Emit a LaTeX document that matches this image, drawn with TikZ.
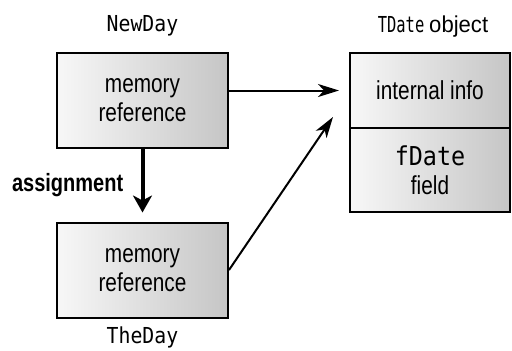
\documentclass[tikz,border=0pt]{standalone}
\usepackage{fontspec}
\usepackage{graphicx}
\setmainfont[FakeStretch=0.8]{Liberation Sans}
\setmonofont[FakeStretch=0.9]{DejaVu Sans Mono}
\usetikzlibrary{positioning,calc,arrows.meta}
\tikzset{
  membox/.style = {
    draw, line width=2pt, left color=gray!6, right color=gray!45,
    minimum width=171pt, align=center, font=\fontsize{26}{29}\selectfont
  },
  title/.style = {font=\fontsize{22}{24}\selectfont},
  link/.style = {line width=2pt, -{Stealth[length=21pt,width=13pt,inset=6pt]}}
}
\tikzset{>=Stealth}

\begin{document}
\begin{tikzpicture}[x=1pt,y=-1pt]
  \useasboundingbox (0,0) rectangle (512,351);
  % variables
  \node[membox, minimum height=95pt] (newday) at (142.5,100.5) {memory\\reference};
  \node[membox, minimum height=95pt] (theday) at (142.5,270) {memory\\reference};
  % object
  \node[membox, minimum width=160pt, minimum height=75pt] (info) at (430,90.5) {internal info};
  \node[membox, minimum width=160pt, minimum height=84pt, below=-2pt of info] (field)
       {\texttt{fDate}\\field};
  % names
  \node[title, above=12pt of newday] {\texttt{NewDay}};
  \node[title, below=5pt of theday] {\texttt{TheDay}};
  \node[title, above=11pt of info, xshift=3pt]
       {\scalebox{0.78}[1]{\texttt{TDate}} {\fontsize{23}{24}\selectfont\scalebox{1.2}[1]{object}}};
  % arrows
  \draw[line width=4pt, -{Stealth[length=17pt,width=19pt,inset=5pt]}, shorten >=9pt]
       (newday.south) -- node[left=14pt, font=\fontsize{25}{28}\bfseries\selectfont]{assignment} (theday.north);
  \draw[link, shorten >=10pt] (newday.east |- info.west) -- (info.west);
  \draw[link] (theday.east) -- ($(info.south west)+(-16,-12)$);
\end{tikzpicture}
\end{document}
